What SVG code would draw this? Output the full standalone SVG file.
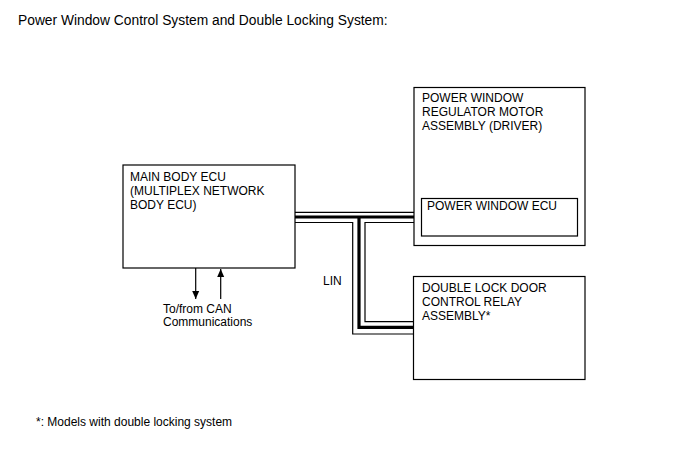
<svg xmlns="http://www.w3.org/2000/svg" width="688" height="463" viewBox="0 0 688 463">
<defs>
<style>
text{font-family:"Liberation Sans",Arial,sans-serif;font-size:12px;fill:#000}
.box{fill:#fff;stroke:#000;stroke-width:1.2}
.thin{fill:none;stroke:#000;stroke-width:1.2}
.thick{fill:none;stroke:#000;stroke-width:3.2}
</style>
<marker id="ah" viewBox="0 0 8 10" refX="8" refY="5" markerWidth="8" markerHeight="10" markerUnits="userSpaceOnUse" orient="auto">
<path d="M0,1.5 L8,5 L0,8.5 Z" fill="#000"/>
</marker>
</defs>
<rect width="688" height="463" fill="#fff"/>
<text x="18" y="25" style="font-size:13.8px">Power Window Control System and Double Locking System:</text>

<g id="main-body-ecu">
<rect class="box" x="123" y="165" width="172" height="103"/>
<text x="130" y="181">MAIN BODY ECU</text>
<text x="130" y="195">(MULTIPLEX NETWORK</text>
<text x="130" y="209">BODY ECU)</text>
</g>

<g id="power-window-regulator">
<rect class="box" x="414" y="87.5" width="171" height="158"/>
<text x="422" y="102">POWER WINDOW</text>
<text x="422" y="116">REGULATOR MOTOR</text>
<text x="422" y="130">ASSEMBLY (DRIVER)</text>
<g id="power-window-ecu">
<rect class="box" x="421.5" y="198.5" width="156" height="37.5"/>
<text x="427" y="210">POWER WINDOW ECU</text>
</g>
</g>

<g id="double-lock-relay">
<rect class="box" x="413.5" y="276.5" width="171.5" height="103"/>
<text x="422" y="292">DOUBLE LOCK DOOR</text>
<text x="422" y="306">CONTROL RELAY</text>
<text x="422" y="320">ASSEMBLY*</text>
</g>

<g id="connectors">
<path class="thin" d="M295,212.3 H414"/>
<path class="thick" d="M295,217 H414"/>
<path class="thin" d="M295,222.5 H352.7 V334 H414"/>
<path class="thin" d="M414,222.5 H365 V321.7 H414"/>
<path class="thick" d="M359,217 V327.3 H414"/>
<path class="thin" d="M195.7,268 V299" marker-end="url(#ah)"/>
<path class="thin" d="M220.7,299 V269" marker-end="url(#ah)"/>
</g>

<text x="323" y="285">LIN</text>
<text x="163" y="313">To/from CAN</text>
<text x="163" y="326">Communications</text>
<text x="36" y="426">*: Models with double locking system</text>
</svg>
